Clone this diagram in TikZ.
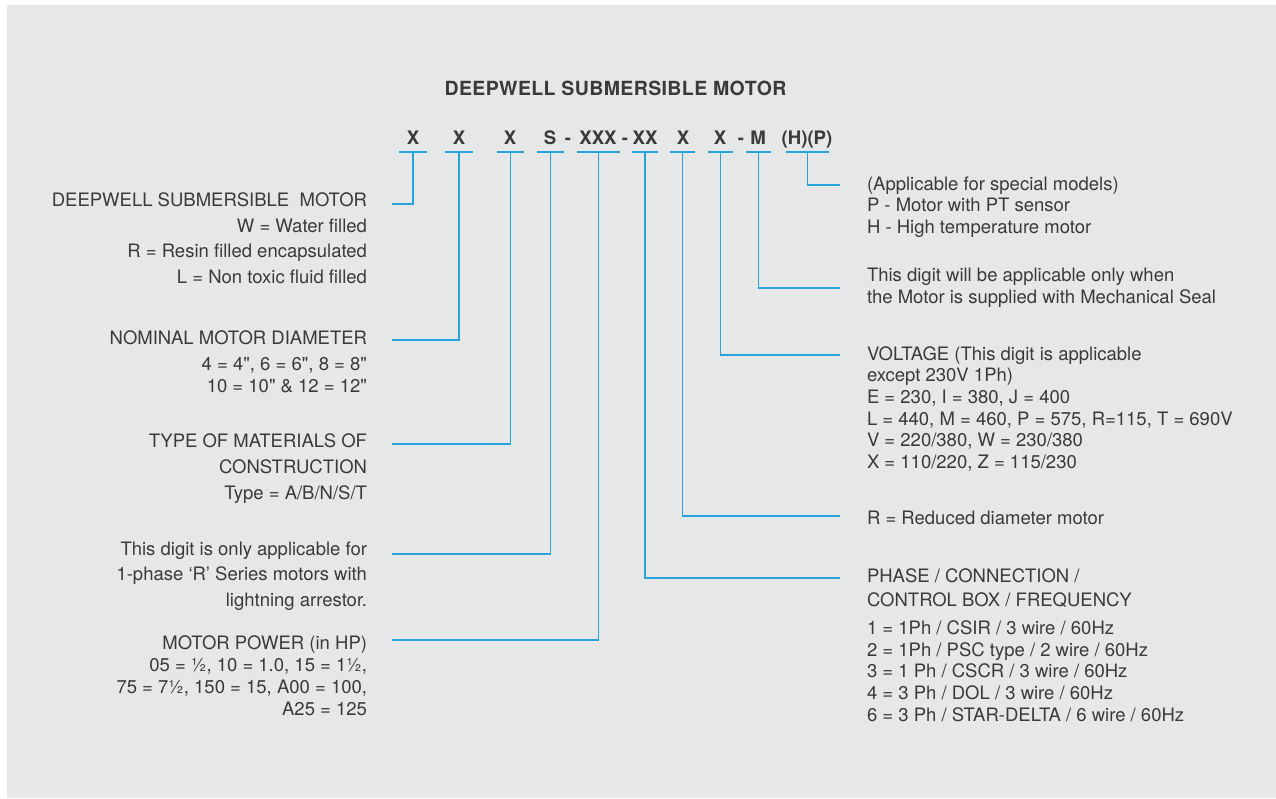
\documentclass[tikz,border=0pt]{standalone}
\usepackage{fontspec}
\setmainfont{TeX Gyre Heros}
\newfontfamily\titlefont[LetterSpace=2]{TeX Gyre Heros}
\definecolor{bg}{RGB}{230,231,233}
\definecolor{txt}{RGB}{58,58,60}
\definecolor{blu}{RGB}{39,164,221}
\newcommand{\inch}{\textquotedbl}
\begin{document}
\begin{tikzpicture}[x=1pt,y=-1pt,
  every node/.style={inner sep=0pt, outer sep=0pt, text=txt},
  title/.style={font=\titlefont\fontsize{19.5}{22}\selectfont\bfseries, anchor=base},
  code/.style={font=\fontsize{18.6}{20}\selectfont\bfseries, anchor=base},
  ldesc/.style={anchor=base east, align=right},
  rdesc/.style={anchor=base west, align=left},
  uline/.style={draw=blu, line width=1.8pt},
  conn/.style={draw=blu, line width=1.8pt}]
\useasboundingbox (0,0) rectangle (1276,798);
\fill[white] (0,0) rectangle (1276,798);
\fill[bg] (7,5) rectangle (1276,798);

% title
\node[title] (title) at (615.5,95) {DEEPWELL SUBMERSIBLE MOTOR};

% code letters
\node[code] (c1) at (413,144) {X};
\node[code] (c2) at (459,144) {X};
\node[code] (c3) at (510,144) {X};
\node[code] (c4) at (550,144) {S};
\node[code] (h1) at (568,144) {-};
\node[code] (c5) at (598,144) {XXX};
\node[code] (h2) at (625,144) {-};
\node[code] (c6) at (645,144) {XX};
\node[code] (c7) at (683,144) {X};
\node[code] (c8) at (720,144) {X};
\node[code] (h3) at (741,144) {-};
\node[code] (c9) at (758,144) {M};
\node[code] (c10) at (807,144) {(H)(P)};

% underline centres
\coordinate (u1) at (413,152);
\coordinate (u2) at (459,152);
\coordinate (u3) at (510.5,152);
\coordinate (u4) at (550.5,152);
\coordinate (u5) at (598.5,152);
\coordinate (u6) at (645,152);
\coordinate (u7) at (682.5,152);
\coordinate (u8) at (720.5,152);
\coordinate (u9) at (758.5,152);
\coordinate (u10) at (807.5,152);

\draw[uline] ([xshift=-14pt]u1) -- ([xshift=14pt]u1);
\draw[uline] ([xshift=-14pt]u2) -- ([xshift=14pt]u2);
\draw[uline] ([xshift=-13.5pt]u3) -- ([xshift=13.5pt]u3);
\draw[uline] ([xshift=-13.5pt]u4) -- ([xshift=13.5pt]u4);
\draw[uline] ([xshift=-21.5pt]u5) -- ([xshift=21.5pt]u5);
\draw[uline] ([xshift=-13pt]u6) -- ([xshift=13pt]u6);
\draw[uline] ([xshift=-12.5pt]u7) -- ([xshift=12.5pt]u7);
\draw[uline] ([xshift=-12.5pt]u8) -- ([xshift=12.5pt]u8);
\draw[uline] ([xshift=-12.5pt]u9) -- ([xshift=12.5pt]u9);
\draw[uline] ([xshift=-21.5pt]u10) -- ([xshift=21.5pt]u10);

% connector free ends
\coordinate (e1) at (392,204);
\coordinate (e2) at (392,340);
\coordinate (e3) at (392,444);
\coordinate (e4) at (392,554);
\coordinate (e5) at (392,640);
\coordinate (e6) at (840,578);
\coordinate (e7) at (840,516);
\coordinate (e8) at (840,355);
\coordinate (e9) at (840,288);
\coordinate (e10) at (840,185);

\draw[conn] (u1) |- (e1);
\draw[conn] (u2) |- (e2);
\draw[conn] (u3) |- (e3);
\draw[conn] (u4) |- (e4);
\draw[conn] (u5) |- (e5);
\draw[conn] (u6) |- (e6);
\draw[conn] (u7) |- (e7);
\draw[conn] (u8) |- (e8);
\draw[conn] (u9) |- (e9);
\draw[conn] (u10) |- (e10);

% left descriptions (positioned at baseline of last line)
\node[ldesc, font=\fontsize{18.5}{25.4}\selectfont] (d1) at (367,283)
  {DEEPWELL SUBMERSIBLE\ \ MOTOR\\ W = Water filled\\ R = Resin filled encapsulated\\ L = Non toxic fluid filled};
\node[ldesc, font=\fontsize{18.5}{22}\selectfont] (d2) at (367,392.5)
  {NOMINAL MOTOR DIAMETER\\[4pt] 4 = 4\inch, 6 = 6\inch, 8 = 8\inch\\ 10 = 10\inch\ \& 12 = 12\inch};
\node[ldesc, font=\fontsize{18.5}{26}\selectfont] (d3) at (367,499.5)
  {TYPE OF MATERIALS OF\\ CONSTRUCTION\\ Type = A/B/N/S/T};
\node[ldesc, font=\fontsize{18.5}{25.5}\selectfont] (d4) at (367,606)
  {This digit is only applicable for\\ 1-phase ‘R’ Series motors with\\ lightning arrestor.};
\node[ldesc, font=\fontsize{18.5}{21.7}\selectfont] (d5) at (367,715)
  {MOTOR POWER (in HP)\\ 05 = ½, 10 = 1.0, 15 = 1½,\\ 75 = 7½, 150 = 15, A00 = 100,\\ A25 = 125};

% right descriptions (positioned at baseline of last line)
\node[rdesc, font=\fontsize{18.5}{21.6}\selectfont] (d10) at (867,233.3)
  {(Applicable for special models)\\ P - Motor with PT sensor\\ H - High temperature motor};
\node[rdesc, font=\fontsize{18.5}{21.6}\selectfont] (d9) at (867,303.3)
  {This digit will be applicable only when\\ the Motor is supplied with Mechanical Seal};
\node[rdesc, font=\fontsize{18.5}{21.6}\selectfont] (d8) at (867,468.3)
  {VOLTAGE (This digit is applicable\\ except 230V 1Ph)\\ E = 230, I = 380, J = 400\\ L = 440, M = 460, P = 575, R=115, T = 690V\\ V = 220/380, W = 230/380\\ X = 110/220, Z = 115/230};
\node[rdesc, font=\fontsize{18.5}{21.6}\selectfont] (d7) at (867,524.5)
  {R = Reduced diameter motor};
\node[rdesc, font=\fontsize{18.5}{21.6}\selectfont] (d6) at (867,721)
  {PHASE / CONNECTION /\\[1.8pt] CONTROL BOX / FREQUENCY\\[6.7pt] 1 = 1Ph / CSIR / 3 wire / 60Hz\\ 2 = 1Ph / PSC type / 2 wire / 60Hz\\ 3 = 1 Ph / CSCR / 3 wire / 60Hz\\ 4 = 3 Ph / DOL / 3 wire / 60Hz\\ 6 = 3 Ph / STAR-DELTA / 6 wire / 60Hz};
\end{tikzpicture}
\end{document}
